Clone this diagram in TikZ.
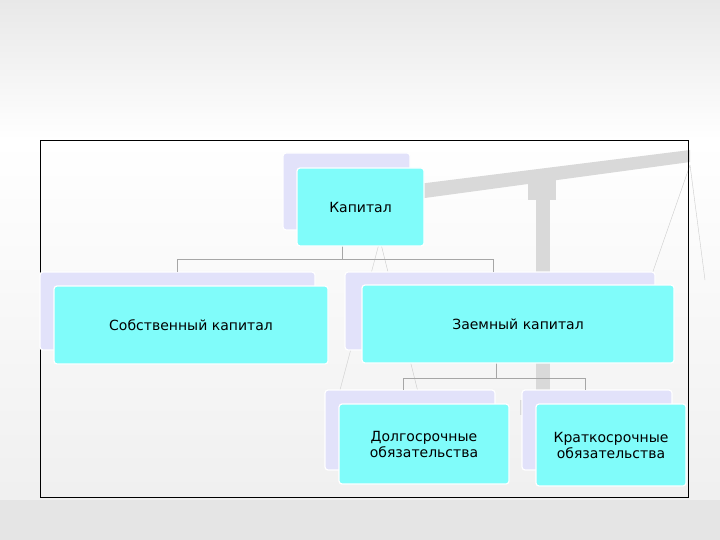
\documentclass[tikz,border=0pt]{standalone}
\usepackage{fontspec}
\setmainfont{DejaVu Sans}
\definecolor{aqua}{RGB}{128,252,250}
\definecolor{lav}{RGB}{226,226,250}
\begin{document}
\begin{tikzpicture}[x=1pt,y=-1pt,
  shad/.style={fill=lav,draw=white,line width=1.2pt,rounded corners=3pt},
  front/.style={fill=aqua,draw=white,line width=1.2pt,rounded corners=3pt,align=center,font=\fontsize{14}{16}\selectfont},
  conn/.style={draw=gray!70,line width=0.9pt}]
\useasboundingbox (0,0) rectangle (720,540);
\shade[top color=gray!18,bottom color=white] (0,0) rectangle (720,140);
\shade[top color=white,bottom color=gray!12] (0,140) rectangle (720,500);
\fill[gray!20] (0,500) rectangle (720,540);
% faint scales decoration
\fill[gray!30] (410,185) -- (690,150) -- (690,162) -- (410,200) -- cycle;
\fill[gray!30] (528,170) rectangle (556,200);
\fill[gray!30] (536,200) rectangle (550,400);
\fill[gray!30] (520,400) rectangle (566,415);
\draw[gray!40] (690,165) -- (650,280) (690,165) -- (705,280);
\draw[gray!40] (380,240) -- (340,390) (380,240) -- (420,400);
\draw[black,line width=0.8pt] (40,140) rectangle (688,497);
% shadows
\draw[shad] (283,153) rectangle (410,230);
\draw[shad] (40,272) rectangle (315,350);
\draw[shad] (345,272) rectangle (655,350);
\draw[shad] (325,390) rectangle (495,470);
\draw[shad] (522,390) rectangle (672,470);
% connectors
\coordinate (j1) at (342,259);
\coordinate (jl) at (177,259);
\coordinate (jr) at (493,259);
\coordinate (j2) at (496,378);
\coordinate (kl) at (403,378);
\coordinate (kr) at (585,378);
\draw[conn] (j1) -- (342,246);
\draw[conn] (jl) -- (jr);
\draw[conn] (jl) -- (177,272);
\draw[conn] (jr) -- (493,272);
\draw[conn] (j2) -- (496,363);
\draw[conn] (kl) -- (kr);
\draw[conn] (kl) -- (403,390);
\draw[conn] (kr) -- (585,390);
% fronts
\node[front,minimum width=127pt,minimum height=78pt] (k) at (360.5,207) {Капитал};
\node[front,minimum width=274pt,minimum height=78pt] (s) at (191,325) {Собственный капитал};
\node[front,minimum width=312pt,minimum height=78pt] (z) at (518,324) {Заемный капитал};
\node[front,minimum width=170pt,minimum height=80pt] (d) at (424,444) {Долгосрочные\\обязательства};
\node[front,minimum width=150pt,minimum height=82pt] (kr2) at (611,445) {Краткосрочные\\обязательства};
\end{tikzpicture}
\end{document}
